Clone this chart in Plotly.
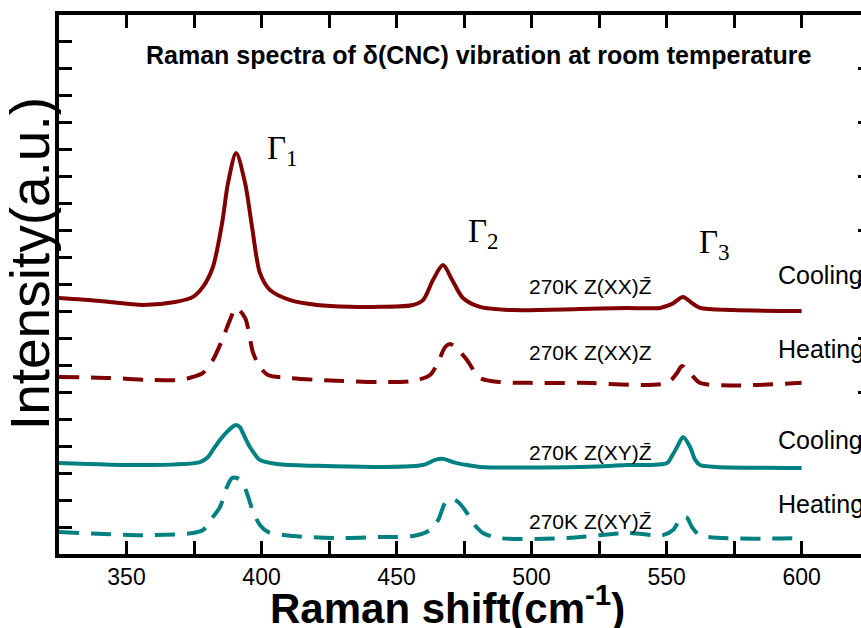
import plotly.graph_objects as go

# Raman spectra of the delta(CNC) vibration, 270 K, cooling/heating runs
# Cooling, Z(XX)Z-bar
cool_xx_x = [325, 340.2, 356.1, 368, 374.6, 378.3, 382, 385.4, 387.6, 390.6, 393.9, 396.5,
             399.4, 403.1, 410.6, 420.6, 432.8, 443.9, 456.1, 459.8, 463.5, 467.2, 470.6,
             474.6, 480.9, 493.1, 518, 535.4, 547.6, 552, 556.1, 559.4, 562.4, 574.6, 600]
cool_xx_y = [9.50, 9.39, 9.24, 9.35, 9.54, 9.91, 10.65, 12.28, 13.77, 14.88, 13.77, 12.13,
             10.43, 9.80, 9.42, 9.24, 9.17, 9.17, 9.24, 9.42, 10.17, 10.72, 10.17,
             9.50, 9.17, 9.05, 9.09, 9.13, 9.13, 9.28, 9.54, 9.31, 9.13, 9.05, 9.02]

# Heating, Z(XX)Z
heat_xx_x = [325, 343.9, 358.7, 369.8, 374.6, 378.3, 382, 385.4, 388.3, 390.6, 393.9, 396.9,
             399.4, 402.4, 410.6, 420.6, 430.2, 443.9, 456.1, 462.4, 465.4, 468, 469.8,
             471.7, 476.1, 478, 480.9, 488.3, 499.4, 518, 550.2, 553.9, 555.7, 558.7, 562.4, 600]
heat_xx_y = [6.57, 6.53, 6.46, 6.46, 6.57, 6.72, 7.20, 7.94, 8.68, 9.13, 8.76, 7.46,
             6.94, 6.64, 6.53, 6.46, 6.42, 6.38, 6.42, 6.64, 7.12, 7.68, 7.79,
             7.68, 7.20, 6.90, 6.53, 6.38, 6.35, 6.35, 6.35, 6.72, 6.98, 6.72, 6.35, 6.35]

# Cooling, Z(XY)Z-bar
cool_xy_x = [325, 358.7, 377.2, 380.2, 382, 384.6, 387.2, 389.1, 390.6, 392, 393.1, 395.7,
             399.4, 405.7, 420.6, 443.9, 459.8, 464.3, 467.2, 470.9, 476.1, 480.9, 518,
             535.4, 550.2, 552, 553.9, 556.1, 558.7, 560.6, 562.4, 568.7, 600]
cool_xy_y = [3.38, 3.30, 3.41, 3.60, 3.86, 4.23, 4.53, 4.71, 4.79, 4.71, 4.49, 3.97,
             3.49, 3.34, 3.27, 3.23, 3.30, 3.49, 3.53, 3.41, 3.30, 3.23, 3.23,
             3.30, 3.38, 3.64, 3.97, 4.34, 3.97, 3.49, 3.30, 3.23, 3.19]

# Heating, Z(XY)Z-bar
heat_xy_x = [325, 356.1, 374.6, 378.3, 382, 384.6, 387.2, 389.1, 390.9, 392.8, 394.6, 396.9,
             399.4, 402.4, 411.7, 428, 443.9, 456.1, 462.4, 465.4, 468, 470.6, 472.8,
             476.1, 478, 482, 488.3, 513.1, 535.4, 548.7, 552.4, 555.7, 557.6, 559.4, 562.4, 600]
heat_xy_y = [0.82, 0.70, 0.78, 0.89, 1.37, 1.74, 2.49, 2.82, 2.82, 2.67, 2.26, 1.56,
             1.08, 0.82, 0.67, 0.59, 0.63, 0.67, 0.89, 1.26, 1.89, 2.04, 1.93,
             1.52, 1.19, 0.78, 0.59, 0.59, 0.78, 0.70, 0.89, 1.37, 1.34, 1.00, 0.70, 0.59]

peak_labels = ["Γ<sub>1</sub>", "Γ<sub>2</sub>", "Γ<sub>3</sub>"]
peak_label_x = [401.3, 475.7, 561.3]
peak_label_y = [14.99, 11.91, 11.50]

config_labels = ["270K Z(XX)Z̄", "270K Z(XX)Z", "270K Z(XY)Z̄", "270K Z(XY)Z̄"]
config_label_y = [9.94, 7.46, 3.78, 1.19]
run_labels = ["Cooling", "Heating", "Cooling", "Heating"]
run_label_y = [10.35, 7.6, 4.23, 1.86]

RED = "#800000"
TEAL = "#008080"
SANS = "Liberation Sans, Arial, sans-serif"
SERIF = "Liberation Serif, Times New Roman, serif"
DASH = "20px,12px"

fig = go.Figure()
series = [
    (cool_xx_x, cool_xx_y, RED, "solid", "y"),
    (heat_xx_x, heat_xx_y, RED, DASH, "y"),
    (cool_xy_x, cool_xy_y, TEAL, "solid", "y"),
    (heat_xy_x, heat_xy_y, TEAL, DASH, "y2"),
]
for xs, ys, color, dash, yax in series:
    fig.add_trace(go.Scatter(
        x=xs, y=ys, mode="lines", yaxis=yax,
        line=dict(color=color, width=4, dash=dash, shape="spline", smoothing=0.8),
        showlegend=False, hoverinfo="skip"))

annotations = [
    dict(x=480.2, y=18.5, xref="x", yref="y", showarrow=False,
         text="<b>Raman spectra of δ(CNC) vibration at room temperature</b>",
         font=dict(family=SANS, size=25, color="black")),
    # axis titles, placed as free text so they can sit off-centre
    dict(x=-0.036, y=0.538, xref="paper", yref="paper", showarrow=False,
         xanchor="center", yanchor="middle", textangle=-90,
         text="Intensity(a.u.)", font=dict(family=SANS, size=55, color="black")),
    dict(x=0.4838, y=-0.0946, xref="paper", yref="paper", showarrow=False,
         xanchor="center", yanchor="middle",
         text="<b>Raman shift(cm<sup>-1</sup>)</b>",
         font=dict(family=SANS, size=42, color="black")),
]
for t, xv, yv in zip(peak_labels, peak_label_x, peak_label_y):
    annotations.append(dict(x=xv, y=yv, xref="x", yref="y", showarrow=False,
                            xanchor="left", text=t,
                            font=dict(family=SERIF, size=33, color="black")))
for t, yv in zip(config_labels, config_label_y):
    annotations.append(dict(x=521.7, y=yv, xref="x", yref="y", showarrow=False,
                            text=t, font=dict(family=SANS, size=21, color="black")))
for t, yv in zip(run_labels, run_label_y):
    annotations.append(dict(x=590.6, y=yv, xref="x", yref="y", showarrow=False,
                            xanchor="left", text=t,
                            font=dict(family=SANS, size=25, color="black")))

fig.update_layout(
    width=861, height=628,
    margin=dict(l=59, r=0, t=15, b=74, pad=0),
    paper_bgcolor="white", plot_bgcolor="white",
    font=dict(family=SANS, color="black"),
    annotations=annotations,
    xaxis=dict(
        range=[325, 622], showgrid=False, zeroline=False,
        showline=True, linecolor="black", linewidth=3.5, mirror="allticks",
        ticks="inside", ticklen=13, tickwidth=3, tickcolor="black",
        tick0=0, dtick=50,
        minor=dict(dtick=25, ticks="inside", ticklen=7, tickwidth=3, tickcolor="black"),
        tickfont=dict(family=SANS, size=23, color="black"),
    ),
    yaxis=dict(
        range=[0, 20], showgrid=False, zeroline=False,
        showline=True, linecolor="black", linewidth=3.5,
        ticks="inside", ticklen=13, tickwidth=3, tickcolor="black",
        tick0=0, dtick=1, showticklabels=False,
    ),
    yaxis2=dict(
        range=[0, 20], overlaying="y", side="right", showgrid=False, zeroline=False,
        showline=False, ticks="inside", ticklen=3, tickwidth=3, tickcolor="black",
        tick0=0, dtick=2, showticklabels=False,
    ),
)

fig.write_html("out.html")
